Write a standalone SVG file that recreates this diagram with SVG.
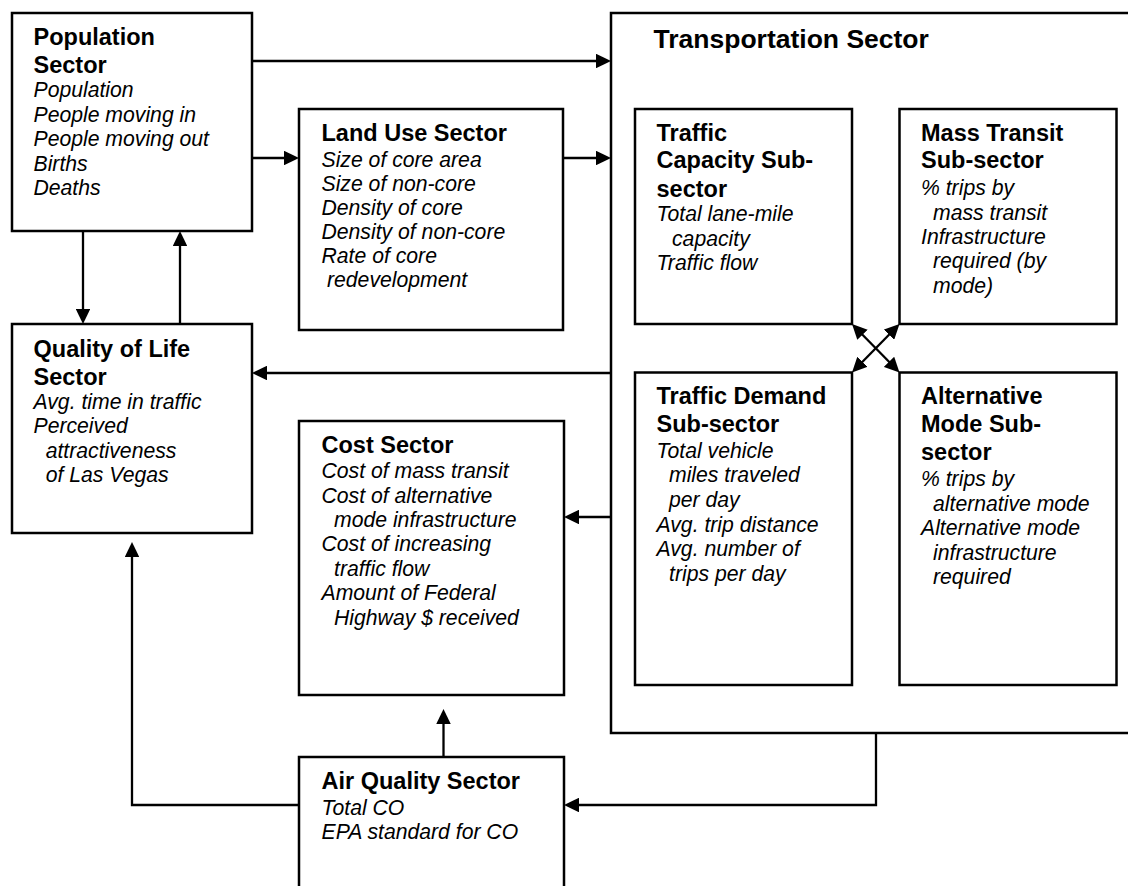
<svg xmlns="http://www.w3.org/2000/svg" width="1128" height="886" viewBox="0 0 1128 886">
  <defs>
    <marker id="arrow" markerUnits="userSpaceOnUse" markerWidth="15" markerHeight="14.5" refX="7" refY="7.25" orient="auto-start-reverse">
      <path d="M0,0 L15,7.25 L0,14.5 z" fill="#000"/>
    </marker>
  </defs>
  <style>
    .box { fill: #fff; stroke: #000; stroke-width: 2.5; }
    .link { fill: none; stroke: #000; stroke-width: 2.3; marker-end: url(#arrow); }
    .both { marker-start: url(#arrow); }
    .t { font-family: "Liberation Sans", Arial, Helvetica, sans-serif; fill: #000; }
    .b { font-weight: bold; font-size: 23.5px; }
    .i { font-style: italic; font-size: 21.2px; }
    .title { font-weight: bold; font-size: 26.5px; }
  </style>
  <rect width="1128" height="886" fill="#fff"/>

  <!-- Transportation sector container with its four sub-sectors -->
  <g id="transportation-sector">
    <rect class="box" x="611" y="13" width="600" height="720"/>
    <text class="t title" x="653.5" y="47.7">Transportation Sector</text>
  </g>

  <g id="traffic-capacity">
    <rect class="box" x="635" y="109" width="217" height="215"/>
    <text class="t">
      <tspan class="b" x="656.5" y="140.7">Traffic</tspan>
      <tspan class="b" x="656.5" y="168.3">Capacity Sub-</tspan>
      <tspan class="b" x="656.5" y="196.5">sector</tspan>
      <tspan class="i" x="656.5" y="220.7">Total lane-mile</tspan>
      <tspan class="i" x="672" y="245.5">capacity</tspan>
      <tspan class="i" x="656.5" y="270.3">Traffic flow</tspan>
    </text>
  </g>

  <g id="mass-transit">
    <rect class="box" x="899.5" y="109" width="217" height="215"/>
    <text class="t">
      <tspan class="b" x="921" y="140.7">Mass Transit</tspan>
      <tspan class="b" x="921" y="168.3">Sub-sector</tspan>
      <tspan class="i" x="921" y="195">% trips by</tspan>
      <tspan class="i" x="933" y="219.5">mass transit</tspan>
      <tspan class="i" x="921" y="244">Infrastructure</tspan>
      <tspan class="i" x="933" y="268.4">required (by</tspan>
      <tspan class="i" x="933" y="292.8">mode)</tspan>
    </text>
  </g>

  <g id="traffic-demand">
    <rect class="box" x="635" y="372.5" width="217" height="312.5"/>
    <text class="t">
      <tspan class="b" x="656.5" y="404">Traffic Demand</tspan>
      <tspan class="b" x="656.5" y="432">Sub-sector</tspan>
      <tspan class="i" x="656.5" y="457.7">Total vehicle</tspan>
      <tspan class="i" x="669" y="482.3">miles traveled</tspan>
      <tspan class="i" x="669" y="506.9">per day</tspan>
      <tspan class="i" x="656.5" y="531.5">Avg. trip distance</tspan>
      <tspan class="i" x="656.5" y="556.1">Avg. number of</tspan>
      <tspan class="i" x="669" y="580.7">trips per day</tspan>
    </text>
  </g>

  <g id="alternative-mode">
    <rect class="box" x="899.5" y="372.5" width="217" height="312.5"/>
    <text class="t">
      <tspan class="b" x="921" y="404">Alternative</tspan>
      <tspan class="b" x="921" y="432">Mode Sub-</tspan>
      <tspan class="b" x="921" y="460">sector</tspan>
      <tspan class="i" x="921" y="486">% trips by</tspan>
      <tspan class="i" x="933" y="510.5">alternative mode</tspan>
      <tspan class="i" x="921" y="535">Alternative mode</tspan>
      <tspan class="i" x="933" y="559.5">infrastructure</tspan>
      <tspan class="i" x="933" y="584">required</tspan>
    </text>
  </g>

  <!-- Left-hand sectors -->
  <g id="population">
    <rect class="box" x="12" y="13" width="240" height="218"/>
    <text class="t">
      <tspan class="b" x="33.5" y="45">Population</tspan>
      <tspan class="b" x="33.5" y="73">Sector</tspan>
      <tspan class="i" x="33.5" y="97">Population</tspan>
      <tspan class="i" x="33.5" y="121.5">People moving in</tspan>
      <tspan class="i" x="33.5" y="146">People moving out</tspan>
      <tspan class="i" x="33.5" y="170.5">Births</tspan>
      <tspan class="i" x="33.5" y="195">Deaths</tspan>
    </text>
  </g>

  <g id="quality-of-life">
    <rect class="box" x="12" y="324" width="240" height="209"/>
    <text class="t">
      <tspan class="b" x="33.5" y="356.7">Quality of Life</tspan>
      <tspan class="b" x="33.5" y="385">Sector</tspan>
      <tspan class="i" x="33.5" y="409">Avg. time in traffic</tspan>
      <tspan class="i" x="33.5" y="433.3">Perceived</tspan>
      <tspan class="i" x="45.7" y="457.5">attractiveness</tspan>
      <tspan class="i" x="45.7" y="481.7">of Las Vegas</tspan>
    </text>
  </g>

  <g id="land-use">
    <rect class="box" x="299" y="109" width="264" height="221"/>
    <text class="t">
      <tspan class="b" x="321.5" y="140.5">Land Use Sector</tspan>
      <tspan class="i" x="321.5" y="167">Size of core area</tspan>
      <tspan class="i" x="321.5" y="191">Size of non-core</tspan>
      <tspan class="i" x="321.5" y="215">Density of core</tspan>
      <tspan class="i" x="321.5" y="239">Density of non-core</tspan>
      <tspan class="i" x="321.5" y="263">Rate of core</tspan>
      <tspan class="i" x="327" y="287.2">redevelopment</tspan>
    </text>
  </g>

  <g id="cost">
    <rect class="box" x="299" y="421" width="265" height="274"/>
    <text class="t">
      <tspan class="b" x="321.5" y="452.7">Cost Sector</tspan>
      <tspan class="i" x="321.5" y="478.3">Cost of mass transit</tspan>
      <tspan class="i" x="321.5" y="502.7">Cost of alternative</tspan>
      <tspan class="i" x="334" y="527">mode infrastructure</tspan>
      <tspan class="i" x="321.5" y="551.2">Cost of increasing</tspan>
      <tspan class="i" x="334" y="575.5">traffic flow</tspan>
      <tspan class="i" x="321.5" y="600">Amount of Federal</tspan>
      <tspan class="i" x="334" y="624.5">Highway $ received</tspan>
    </text>
  </g>

  <g id="air-quality">
    <rect class="box" x="299" y="757" width="265" height="200"/>
    <text class="t">
      <tspan class="b" x="321.5" y="789">Air Quality Sector</tspan>
      <tspan class="i" x="321.5" y="815">Total CO</tspan>
      <tspan class="i" x="321.5" y="838.5">EPA standard for CO</tspan>
    </text>
  </g>

  <!-- Connectors: each path stops 8px short of its arrow tip -->
  <g id="connectors">
    <path class="link" d="M252,61 H603"/>
    <path class="link" d="M252,158 H291"/>
    <path class="link" d="M563,158 H603"/>
    <path class="link" d="M83,231 V316"/>
    <path class="link" d="M180,324 V239"/>
    <path class="link" d="M611,373 H260"/>
    <path class="link" d="M611,517 H572"/>
    <path class="link" d="M299,805 H132 V550"/>
    <path class="link" d="M443.5,757 V717"/>
    <path class="link" d="M876,733 V805 H572"/>
    <path class="link both" d="M857.6,329.7 L893.9,366.8"/>
    <path class="link both" d="M893.9,329.7 L857.6,366.8"/>
  </g>
</svg>
